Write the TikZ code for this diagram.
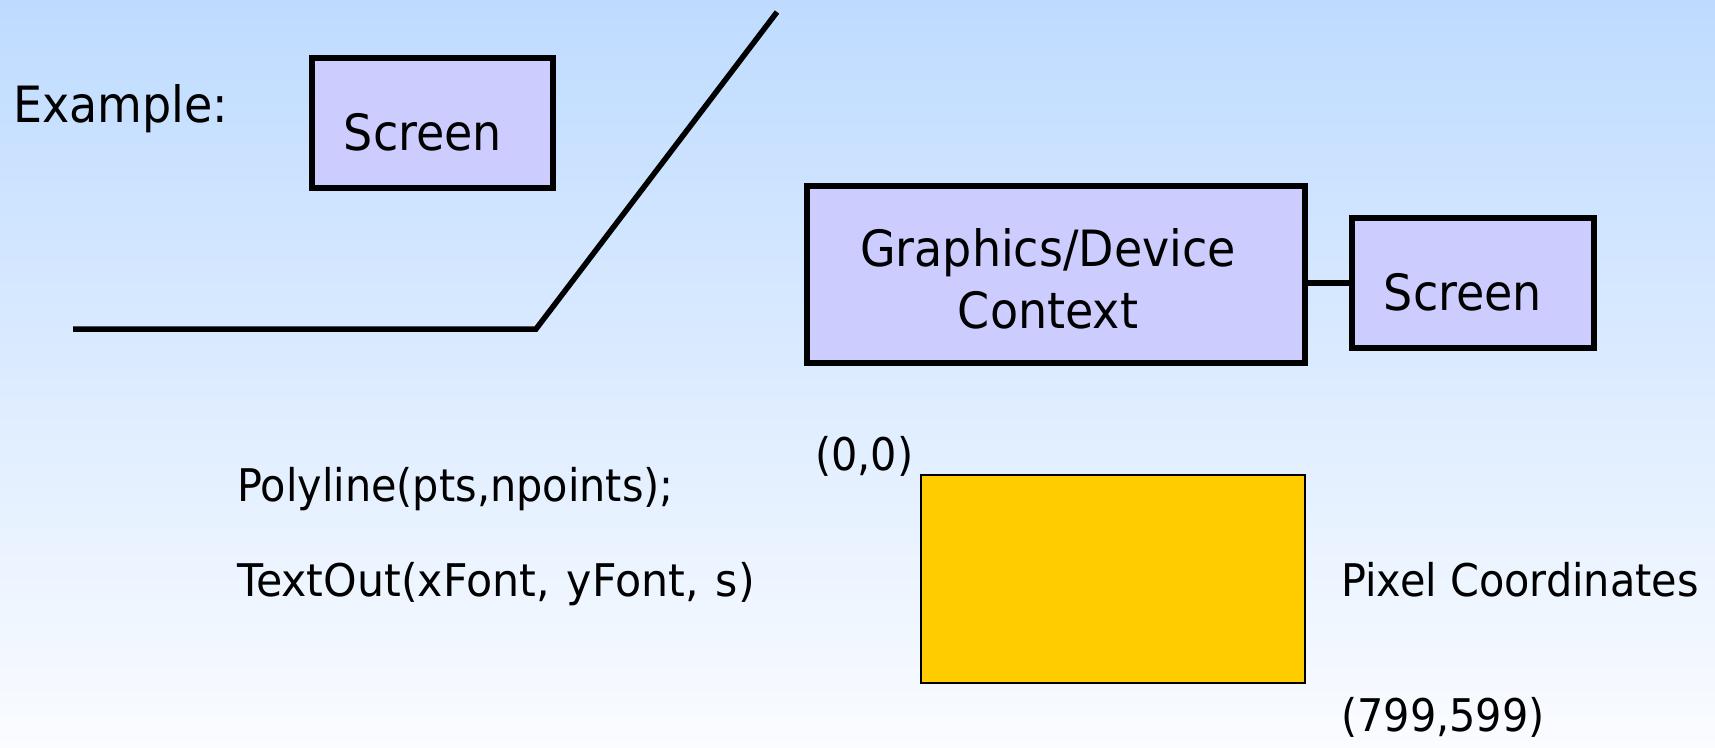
\documentclass[tikz,border=0pt]{standalone}
\usepackage{fontspec}
\setmainfont{DejaVu Sans}[FakeStretch=0.92]
\newfontfamily\widerfont{DejaVu Sans}[FakeStretch=0.95]
\definecolor{bgtop}{RGB}{190,219,255}
\definecolor{bgbottom}{RGB}{250,252,255}
\definecolor{boxfill}{RGB}{204,204,255}
\definecolor{canvasfill}{RGB}{255,204,0}
\tikzset{
  blockbox/.style={draw=black, line width=5.5pt, fill=boxfill, inner sep=0pt},
  bigtext/.style={inner sep=0pt, font=\fontsize{50}{62}\selectfont},
  smalltext/.style={inner sep=0pt, anchor=base west, font=\fontsize{45}{54}\selectfont},
  wire/.style={line width=5.5pt, line cap=butt, line join=miter}
}
\begin{document}
\begin{tikzpicture}[x=1pt, y=-1pt]
  % background
  \shade[top color=bgtop, bottom color=bgbottom] (0,0) rectangle (1715,747);
  \useasboundingbox (0,0) rectangle (1715,747);

  % left example: a screen and a polyline
  \node[bigtext, anchor=base west] (example) at (13,122) {Example:};
  \node[blockbox, minimum width=241pt, minimum height=130pt] (screenA) at (432.5,123) {};
  \node[bigtext, anchor=base] (screenAtext) at (423,150) {Screen};

  \coordinate (p1) at (73,329);
  \coordinate (p2) at (536,329);
  \coordinate (p3) at (777,12);
  \draw[wire] (p1) -- (p2) -- (p3);

  % device context connected to a screen
  \node[blockbox, minimum width=498pt, minimum height=177pt] (gdc) at (1056,274.5) {};
  \node[bigtext, align=center, anchor=base] (gdctext) at (1048,328) {Graphics/Device\\Context};
  \node[blockbox, minimum width=242pt, minimum height=130pt] (screenB) at (1473,283) {};
  \node[bigtext, anchor=base] (screenBtext) at (1463,310) {Screen};
  \draw[wire] (gdc.east |- 0,283) -- (screenB.west |- 0,283);

  % drawing calls
  \node[smalltext] (polyline) at (237,501) {Polyline(pts,npoints);};
  \node[smalltext] (textout) at (237,596) {\widerfont\spaceskip=17pt TextOut(xFont, yFont, s)};

  % pixel coordinate canvas
  \node[draw=black, line width=1.5pt, fill=canvasfill, minimum width=384pt, minimum height=208pt, inner sep=0pt] (canvas) at (1113,579) {};
  \node[smalltext] (origin) at (815,470) {(0,0)};
  \node[smalltext] (pixcoord) at (1341,596) {Pixel Coordinates};
  \node[smalltext] (corner) at (1341,731) {(799,599)};
\end{tikzpicture}
\end{document}
